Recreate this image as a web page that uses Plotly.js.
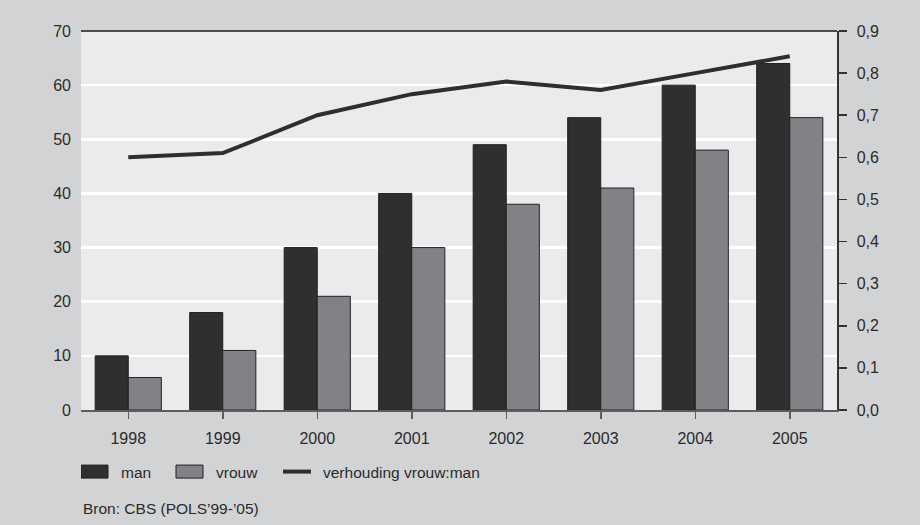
<!DOCTYPE html>
<html>
<head>
<meta charset="utf-8">
<script src="https://cdn.plot.ly/plotly-3.0.1.min.js"></script>
<style>
  html, body { margin: 0; padding: 0; background: #d2d3d5; }
  #chart { width: 920px; height: 525px; }
</style>
</head>
<body>
<div id="chart"></div>
<script>
// ---- data ----
const years = ["1998", "1999", "2000", "2001", "2002", "2003", "2004", "2005"];
const man = [10, 18, 30, 40, 49, 54, 60, 64];
const vrouw = [6, 11, 21, 30, 38, 41, 48, 54];
const verhouding = [0.60, 0.61, 0.70, 0.75, 0.78, 0.76, 0.80, 0.84];
const leftTicks = [0, 10, 20, 30, 40, 50, 60, 70];
const rightTicks = [0, 0.1, 0.2, 0.3, 0.4, 0.5, 0.6, 0.7, 0.8, 0.9];
const seriesNames = ["man", "vrouw", "verhouding vrouw:man"];
const sourceText = "Bron: CBS (POLS\u201999-\u201905)";

// ---- style ----
const FONT = '"Liberation Sans", Arial, sans-serif';
const TXT = '#2b2b2b';

const traces = [
  {
    type: 'bar', name: seriesNames[0], x: years, y: man,
    marker: { color: '#302e2f', line: { color: '#222', width: 1 } },
    hoverinfo: 'skip'
  },
  {
    type: 'bar', name: seriesNames[1], x: years, y: vrouw,
    marker: { color: '#818285', line: { color: '#222', width: 1 } },
    hoverinfo: 'skip'
  },
  {
    type: 'scatter', mode: 'lines', name: seriesNames[2], x: years, y: verhouding,
    yaxis: 'y2', line: { color: '#2f2d2e', width: 4 },
    hoverinfo: 'skip'
  }
];

const layout = {
  width: 920, height: 525,
  margin: { l: 81, r: 83, t: 31, b: 115 },
  paper_bgcolor: '#d2d3d5',
  plot_bgcolor: '#ebebed',
  separators: ',.',
  font: { family: FONT, size: 16, color: TXT },
  barmode: 'group', bargap: 0.3, bargroupgap: 0,
  showlegend: true,
  legend: {
    orientation: 'h', x: 0, xanchor: 'left', y: -0.1636, yanchor: 'middle',
    bgcolor: 'rgba(0,0,0,0)', font: { family: FONT, size: 15.5, color: TXT },
    itemwidth: 30, entrywidth: 170, traceorder: 'normal'
  },
  xaxis: {
    type: 'category', range: [-0.5, 7.5],
    showgrid: false, zeroline: false,
    showline: true, linecolor: '#5d5d5d', linewidth: 2,
    ticks: 'outside', ticklen: 7, tickwidth: 1.5, tickcolor: '#5d5d5d',
    ticklabelstandoff: 6,
    tickfont: { family: FONT, size: 16, color: TXT }
  },
  yaxis: {
    range: [0, 70], tickvals: leftTicks,
    showgrid: true, gridcolor: '#ffffff', gridwidth: 2.5,
    zeroline: false, showline: false, ticks: '',
    ticklabelstandoff: 9,
    tickfont: { family: FONT, size: 16, color: TXT }
  },
  yaxis2: {
    overlaying: 'y', side: 'right', range: [0, 0.9],
    tickvals: rightTicks, tickformat: '.1f',
    showgrid: false, zeroline: false,
    showline: true, linecolor: '#333', linewidth: 1.5,
    ticks: 'outside', ticklen: 8, tickwidth: 1.5, tickcolor: '#333',
    ticklabelstandoff: 7,
    tickfont: { family: FONT, size: 16, color: TXT }
  },
  shapes: [
    { type: 'line', xref: 'paper', yref: 'paper', x0: 0, x1: 1, y0: 1, y1: 1,
      line: { color: '#1a1a1a', width: 1.5 }, layer: 'above' }
  ],
  annotations: [
    { xref: 'paper', yref: 'paper', x: 0, y: -0.2586, xanchor: 'left', yanchor: 'middle',
      text: sourceText, showarrow: false, font: { family: FONT, size: 15.5, color: TXT } }
  ]
};

// absolute left edges of the three legend entries (swatch start), in px
const legendStarts = [81, 176, 283];

function tuneLegend() {
  const items = document.querySelectorAll('#chart .legend .traces');
  items.forEach((g, i) => {
    g.querySelectorAll('.legendpoints path').forEach(p => {
      const d = (p.getAttribute('d') || '').replace(/\s/g, '');
      if (/^M6,6H-6V-6H6Z$/i.test(d)) {
        p.setAttribute('d', 'M13.5,6.5H-13.5V-6.5H13.5Z');
        p.setAttribute('transform', 'translate(13.5,0)');
      }
    });
    const ln = g.querySelector('.legendlines path');
    if (ln) ln.setAttribute('d', 'M0,0h28');
    const parent = g.parentNode;
    const ctm = parent.getCTM();
    const m = /translate\(\s*([-\d.]+)[ ,]+([-\d.]+)/.exec(g.getAttribute('transform') || '');
    const y = m ? parseFloat(m[2]) : 0;
    if (i < legendStarts.length) {
      g.setAttribute('transform', 'translate(' + (legendStarts[i] - ctm.e) + ',' + y + ')');
    }
  });
}

Plotly.newPlot('chart', traces, layout, { displayModeBar: false, staticPlot: true }).then(tuneLegend);
</script>
</body>
</html>
